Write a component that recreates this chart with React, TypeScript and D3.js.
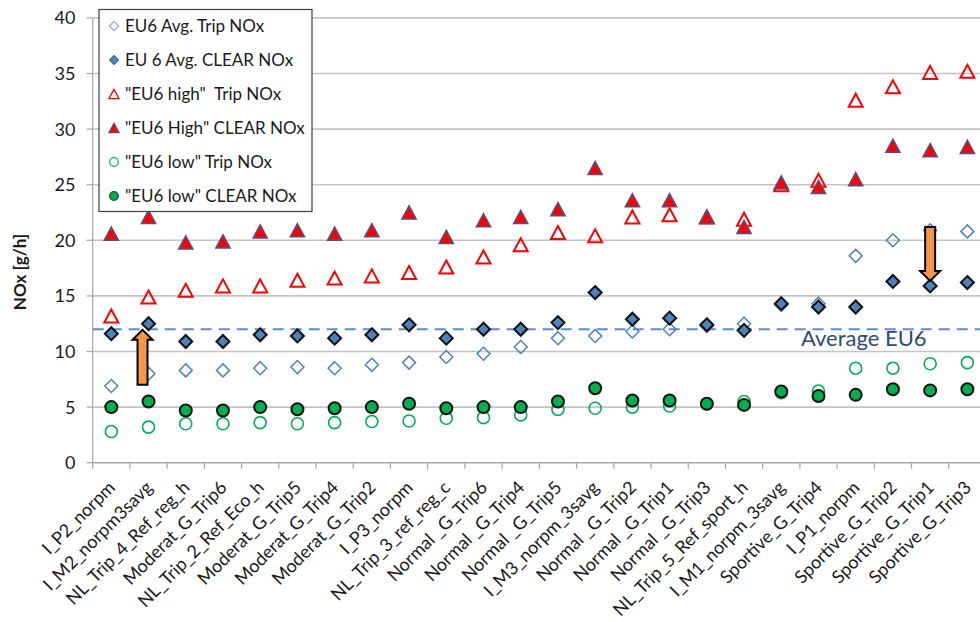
import React from "react";
import * as d3 from "d3";

const categories = [
  "I_P2_norpm", "I_M2_norpm3savg", "NL_Trip_4_Ref_reg_h", "Moderat_G_Trip6",
  "NL_Trip_2_Ref_Eco_h", "Moderat_G_Trip5", "Moderat_G_Trip4", "Moderat_G_Trip2",
  "I_P3_norpm", "NL_Trip_3_ref_reg_c", "Normal _G_Trip6", "Normal _G_Trip4",
  "Normal _G_Trip5", "I_M3_norpm_3savg", "Normal _G_Trip2", "Normal _G_Trip1",
  "Normal _G_Trip3", "NL_Trip_5_Ref_sport_h", "I_M1_norpm_3savg", "Sportive_G_Trip4",
  "I_P1_norpm", "Sportive_G_Trip2", "Sportive_G_Trip1", "Sportive_G_Trip3",
];

const avgTrip = [6.9, 8.0, 8.3, 8.3, 8.5, 8.6, 8.5, 8.8, 9.0, 9.5, 9.8, 10.4, 11.2, 11.4, 11.8, 12.0, 12.3, 12.5, 14.2, 14.3, 18.6, 20.0, 20.9, 20.8];
const avgClear = [11.6, 12.5, 10.9, 10.9, 11.5, 11.4, 11.2, 11.5, 12.4, 11.2, 12.0, 12.0, 12.6, 15.3, 12.9, 13.0, 12.4, 11.9, 14.3, 14.0, 14.0, 16.3, 15.9, 16.2];
const highTrip = [13.2, 14.9, 15.5, 15.9, 15.9, 16.4, 16.6, 16.8, 17.1, 17.6, 18.5, 19.6, 20.7, 20.4, 22.1, 22.3, 22.1, 21.9, 25.0, 25.4, 32.6, 33.8, 35.1, 35.2];
const highClear = [20.6, 22.1, 19.8, 19.9, 20.8, 20.9, 20.6, 20.9, 22.5, 20.3, 21.8, 22.1, 22.8, 26.5, 23.6, 23.6, 22.1, 21.2, 25.2, 24.8, 25.5, 28.5, 28.1, 28.4];
const lowTrip = [2.8, 3.2, 3.5, 3.5, 3.6, 3.5, 3.6, 3.7, 3.75, 4.0, 4.05, 4.3, 4.8, 4.9, 5.0, 5.1, 5.3, 5.5, 6.3, 6.45, 8.5, 8.5, 8.9, 9.0];
const lowClear = [5.0, 5.5, 4.7, 4.7, 5.0, 4.8, 4.9, 5.0, 5.3, 4.9, 5.0, 5.0, 5.5, 6.7, 5.6, 5.6, 5.3, 5.2, 6.4, 6.0, 6.1, 6.6, 6.5, 6.6];

const yTicks = [0, 5, 10, 15, 20, 25, 30, 35, 40];
const averageEU6 = 12;
const legendLabels = [
  "EU6 Avg. Trip NOx",
  "EU 6 Avg. CLEAR NOx",
  "\"EU6 high\"  Trip NOx",
  "\"EU6 High\" CLEAR NOx",
  "\"EU6 low\" Trip NOx",
  "\"EU6 low\" CLEAR NOx",
];
// annotation arrows: category index, start value, end value
const arrowCats = [1, 22];
const arrowFrom = [7.0, 21.2];
const arrowTo = [11.95, 16.35];

const W = 980, H = 622;
const plotLeft = 92.7, band = 37.22;
const x = d3.scaleBand<string>().domain(categories).range([plotLeft, plotLeft + band * categories.length]).padding(0);
const y = d3.scaleLinear().domain([0, 40]).range([462.7, 17.9]);

type Kind = "diamondOpen" | "diamondFilled" | "triOpen" | "triFilled" | "circOpen" | "circFilled";

function Marker({ kind, cx, cy, s = 1, legend = false }: { kind: Kind; cx: number; cy: number; s?: number; legend?: boolean }) {
  if (kind === "diamondOpen" || kind === "diamondFilled") {
    const r = 6.5 * s;
    const p = `M${cx},${cy - r}L${cx + r},${cy}L${cx},${cy + r}L${cx - r},${cy}Z`;
    return kind === "diamondOpen"
      ? <path d={p} fill="none" stroke={legend ? "#8eaadb" : "#4f81bd"} strokeWidth={legend ? 1.2 : 1.5} />
      : <path d={p} fill="#4f81bd" stroke={legend ? "#2f4f80" : "#111"} strokeWidth={legend ? 1 : 2} />;
  }
  if (kind === "triOpen" || kind === "triFilled") {
    const w = 7 * s, h = 6.5 * s;
    const p = `M${cx},${cy - h}L${cx + w},${cy + h}L${cx - w},${cy + h}Z`;
    return kind === "triOpen"
      ? <path d={p} fill="none" stroke="#ff0000" strokeWidth={legend ? 1.3 : 2} />
      : <path d={p} fill="#ff0000" stroke="#604a7b" strokeWidth={legend ? 1.2 : 1.6} />;
  }
  const r = 6 * s;
  return kind === "circOpen"
    ? <circle cx={cx} cy={cy} r={r} fill="none" stroke="#00b050" strokeWidth={legend ? 1.2 : 1.6} />
    : <circle cx={cx} cy={cy} r={r} fill="#00b050" stroke={legend ? "#1d4d2b" : "#111"} strokeWidth={legend ? 1.2 : 2} />;
}

const series: { kind: Kind; values: number[] }[] = [
  { kind: "diamondOpen", values: avgTrip },
  { kind: "diamondFilled", values: avgClear },
  { kind: "triOpen", values: highTrip },
  { kind: "triFilled", values: highClear },
  { kind: "circOpen", values: lowTrip },
  { kind: "circFilled", values: lowClear },
];

function Arrow({ cx, from, to }: { cx: number; from: number; to: number }) {
  const y0 = y(from), y1 = y(to);
  const dir = y1 < y0 ? -1 : 1; // -1 = up
  const sw = 5, hw = 10, hh = 10;
  const yb = y1 - dir * hh;
  const d = `M${cx - sw},${y0}L${cx - sw},${yb}L${cx - hw},${yb}L${cx},${y1}L${cx + hw},${yb}L${cx + sw},${yb}L${cx + sw},${y0}Z`;
  return <path d={d} fill="#f79646" stroke="#000" strokeWidth={2} strokeLinejoin="miter" />;
}

export default function App() {
  const font = "Lato, 'Open Sans', sans-serif";
  const axisBottom = y(0);
  const legendKinds: Kind[] = ["diamondOpen", "diamondFilled", "triOpen", "triFilled", "circOpen", "circFilled"];
  return (
    <svg width={W} height={H} style={{ position: "absolute", left: 0, top: 0, background: "#fff" }} fontFamily={font}>
      {/* gridlines */}
      {yTicks.filter((t) => t > 0).map((t) => (
        <line key={t} x1={plotLeft} x2={W} y1={y(t)} y2={y(t)} stroke="#c4c4c4" strokeWidth={1.6} />
      ))}
      {/* axes */}
      <line x1={plotLeft} x2={plotLeft} y1={y(40)} y2={axisBottom} stroke="#a6a6a6" strokeWidth={1.2} />
      <line x1={plotLeft} x2={W} y1={axisBottom} y2={axisBottom} stroke="#a6a6a6" strokeWidth={1.6} />
      {yTicks.map((t) => (
        <g key={t}>
          <line x1={plotLeft - 6} x2={plotLeft} y1={y(t)} y2={y(t)} stroke="#a6a6a6" strokeWidth={1.2} />
          <text x={75.5} y={y(t)} dy="0.36em" textAnchor="end" fontSize={18} fill="#1a1a1a">{t}</text>
        </g>
      ))}
      {d3.range(categories.length + 1).map((i) => (
        <line key={i} x1={plotLeft + band * i} x2={plotLeft + band * i} y1={axisBottom} y2={axisBottom + 6} stroke="#a6a6a6" strokeWidth={1.2} />
      ))}
      {categories.map((c) => {
        const cx = (x(c) as number) + x.bandwidth() / 2;
        return (
          <text key={c} transform={`translate(${cx + 5},${axisBottom + 26}) rotate(-45)`} textAnchor="end" fontSize={18} fill="#1a1a1a" style={{ whiteSpace: "pre" }}>{c}</text>
        );
      })}
      <text transform={`translate(26,272) rotate(-90)`} textAnchor="middle" fontSize={17} fontWeight="bold" fill="#1a1a1a">NOx [g/h]</text>

      {/* average line */}
      <line x1={plotLeft} x2={W} y1={y(averageEU6)} y2={y(averageEU6)} stroke="#5b8ccf" strokeWidth={2} strokeDasharray="11,7" />

      {/* series */}
      {series.map((s) => (
        <g key={s.kind}>
          {s.values.map((v, i) => (
            <Marker key={i} kind={s.kind} cx={(x(categories[i]) as number) + x.bandwidth() / 2} cy={y(v)} />
          ))}
        </g>
      ))}
      <text x={801} y={345.5} fontSize={22} fill="#2c4a78">Average EU6</text>

      {/* arrows */}
      {arrowCats.map((ci, k) => (
        <Arrow key={k} cx={(x(categories[ci]) as number) + x.bandwidth() / 2 + (k === 0 ? -6 : 0)} from={arrowFrom[k]} to={arrowTo[k]} />
      ))}

      {/* legend */}
      <rect x={99} y={9.5} width={213} height={202} fill="#fff" stroke="#404040" strokeWidth={1.2} />
      {legendLabels.map((l, i) => (
        <g key={l}>
          <Marker kind={legendKinds[i]} cx={114} cy={26 + 34 * i} s={0.72} legend />
          <text x={125} y={26 + 34 * i} dy="0.36em" fontSize={17} fill="#1a1a1a" style={{ whiteSpace: "pre" }}>{l}</text>
        </g>
      ))}
    </svg>
  );
}
